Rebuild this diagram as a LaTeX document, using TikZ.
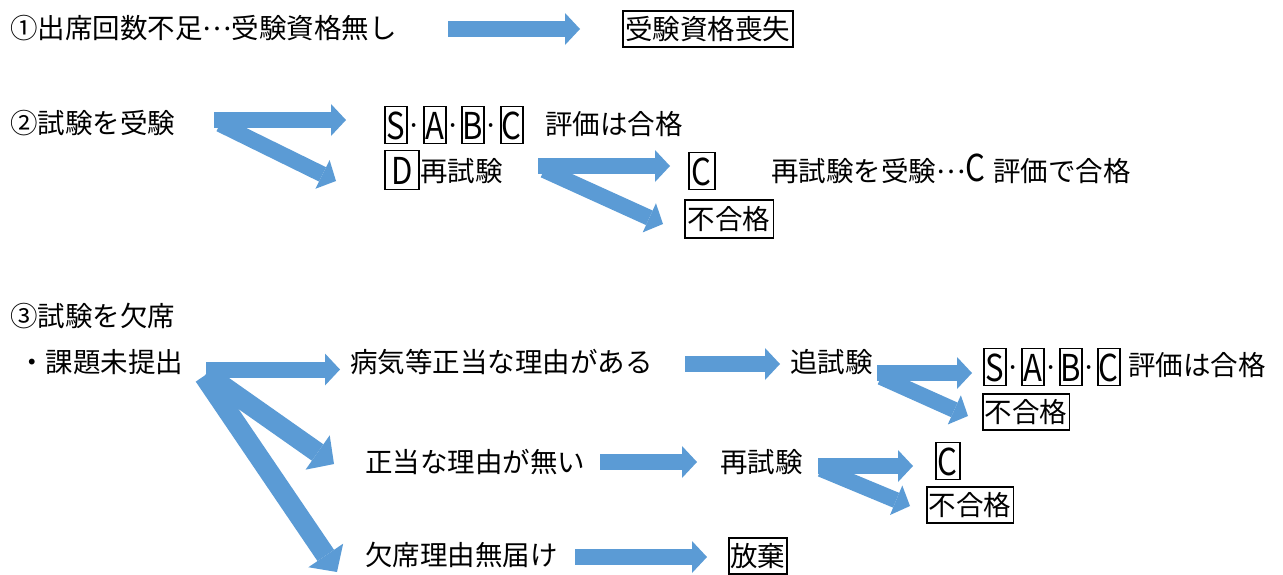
\documentclass[tikz,border=0pt]{standalone}
\usepackage{fontspec}
\usepackage{graphicx}
\setmainfont{Noto Sans CJK JP}
\usetikzlibrary{arrows.meta}
\definecolor{ablue}{HTML}{5B9BD5}
\newcommand{\lat}[1]{\scalebox{0.84}[1]{\fontsize{37}{37}\selectfont #1}}
\newcommand{\mdots}{\raisebox{8pt}{…}}
\begin{document}
\begin{tikzpicture}[x=1pt,y=-1pt,
  every node/.style={font=\fontsize{27.5}{30}\selectfont},
  txt/.style={anchor=west, inner xsep=0pt, inner ysep=0pt, text height=25pt, text depth=4pt},
  dotx/.style={anchor=center, inner sep=0pt, text height=25pt, text depth=4pt},
  bx/.style={draw, line width=1.8pt, anchor=west, inner xsep=2.5pt, inner ysep=3.5pt, text height=25pt, text depth=4pt},
  lbx/.style={draw, line width=1.8pt, anchor=west, inner xsep=0pt, inner ysep=1.5pt, minimum width=22pt, text height=31pt, text depth=3pt},
  barrow/.style={ablue, line width=16pt, -{Triangle[width=32pt,length=15pt,line width=0pt]}},
  bigarrow/.style={ablue, line width=20pt, -{Triangle[width=42pt,length=20pt,line width=0pt]}},
]
\useasboundingbox (0,0) rectangle (1283,574);

% ---------- row 1
\node[txt] (t1) at (10,28) {①出席回数不足\mdots 受験資格無し};
\node[bx] (b1) at (622,29) {受験資格喪失};
\coordinate (a1s) at (448,29);
\coordinate (a1e) at (580,29);
\draw[barrow] (a1s) -- (a1e);

% ---------- row 2
\node[txt] (t2) at (10,123) {②試験を受験};
\coordinate (f2) at (214,120);
\coordinate (f2l) at (220,124);
\coordinate (f2a) at (346,120);
\coordinate (f2b) at (336,181);
\draw[barrow] (f2l) -- (f2b);
\draw[barrow] (f2) -- (f2a);

\node[lbx] (s2S) at (384,125) {\lat{S}};
\node[dotx] (s2d1) at (414.5,125) {·};
\node[lbx] (s2A) at (423,125) {\lat{A}};
\node[dotx] (s2d2) at (453,125) {·};
\node[lbx] (s2B) at (461,125) {\lat{B}};
\node[dotx] (s2d3) at (491.5,125) {·};
\node[lbx] (s2C) at (500,125) {\lat{C}};
\node[txt] (e2) at (545,124) {評価は合格};

\node[lbx, minimum width=34pt, inner ysep=2.5pt] (d2) at (384,170) {\lat{D}\hspace{10pt}};
\node[txt] (re2) at (420,171) {再試験};
\coordinate (f3) at (538,166);
\coordinate (f3l) at (544,170);
\coordinate (f3a) at (670,166);
\coordinate (f3b) at (663,224);
\draw[barrow] (f3l) -- (f3b);
\draw[barrow] (f3) -- (f3a);
\node[lbx, minimum width=26pt] (c2) at (688,171) {\lat{C}};
\node[txt] (r2) at (771,171) {再試験を受験\mdots\lat{C}\hspace{8pt}評価で合格};
\node[bx, inner xsep=3pt, inner ysep=4.5pt] (n2) at (684,219) {不合格};

% ---------- row 3
\node[txt] (t3) at (10,316) {③試験を欠席};
\node[txt] (t4) at (18,362) {・課題未提出};
\coordinate (f4u) at (206,369.5);
\coordinate (f4m) at (206,374);
\coordinate (f4d) at (204,376);
\coordinate (f4a) at (340,369.5);
\coordinate (f4b) at (334,464);
\coordinate (f4c) at (337,572);
\draw[bigarrow] (f4d) -- (f4c);
\draw[bigarrow] (f4m) -- (f4b);
\draw[barrow] (f4u) -- (f4a);

\node[txt] (p1) at (350,362) {病気等正当な理由がある};
\coordinate (a3s) at (685,364);
\coordinate (a3e) at (780,364);
\draw[barrow] (a3s) -- (a3e);
\node[txt] (p2) at (790,362) {追試験};
\coordinate (f5) at (877,373);
\coordinate (f5l) at (881,377);
\coordinate (f5a) at (972,373);
\coordinate (f5b) at (968,416);
\draw[barrow] (f5l) -- (f5b);
\draw[barrow] (f5) -- (f5a);

\node[lbx] (s3S) at (983,367) {\lat{S}};
\node[dotx] (s3d1) at (1013,367) {·};
\node[lbx] (s3A) at (1021,367) {\lat{A}};
\node[dotx] (s3d2) at (1051,367) {·};
\node[lbx] (s3B) at (1059,367) {\lat{B}};
\node[dotx] (s3d3) at (1089,367) {·};
\node[lbx] (s3C) at (1097,367) {\lat{C}};
\node[txt] (e3) at (1128,365) {評価は合格};
\node[bx, inner xsep=2pt] (n3) at (982,412) {不合格};

\node[txt] (q1) at (365,462) {正当な理由が無い};
\coordinate (a4s) at (600,462);
\coordinate (a4e) at (697,462);
\draw[barrow] (a4s) -- (a4e);
\node[txt] (q2) at (720,462) {再試験};
\coordinate (f6) at (818,466);
\coordinate (f6l) at (821,469);
\coordinate (f6a) at (913,466);
\coordinate (f6b) at (910,506);
\draw[barrow] (f6l) -- (f6b);
\draw[barrow] (f6) -- (f6a);
\node[lbx, minimum width=24pt] (c3) at (935,461) {\lat{C}};
\node[bx, inner xsep=2pt] (n4) at (926,505) {不合格};

\node[txt] (u1) at (365,555) {欠席理由無届け};
\coordinate (a5s) at (575,557);
\coordinate (a5e) at (707,557);
\draw[barrow] (a5s) -- (a5e);
\node[bx, inner xsep=1.5pt] (h1) at (728,556) {放棄};
\end{tikzpicture}
\end{document}
